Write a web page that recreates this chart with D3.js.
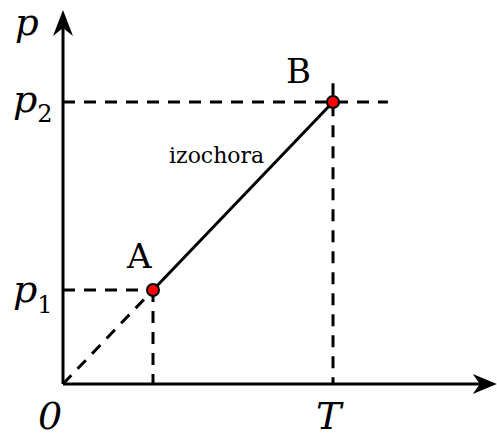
<!DOCTYPE html>
<html>
<head>
<meta charset="utf-8">
<script src="https://cdn.jsdelivr.net/npm/d3@7/dist/d3.min.js"></script>
<style>
  html, body { margin: 0; padding: 0; background: #fff; }
</style>
</head>
<body>
<div id="chart"></div>
<script>
// states of the gas (T, p) in arbitrary units
var stateNames = ["A", "B"];
var temps = [1, 3];
var pressures = [1, 3];
var lineLabel = "izochora";

var width = 497,
    height = 438,
    x = d3.scaleLinear().domain([0, 3]).range([63, 333]),
    y = d3.scaleLinear().domain([0, 3]).range([384, 102]),
    xMax = 4.82,
    yMax = 3.98,
    dash = "12,9",
    lw = 3,
    serif = "'DejaVu Serif', serif";

var svg = d3.select("#chart")
    .append("svg")
    .attr("width", width)
    .attr("height", height);

var pts = temps.map(function (t, i) {
    return { name: stateNames[i], t: t, p: pressures[i] };
});
var A = pts[0], B = pts[1];

function seg(x1, y1, x2, y2, dashed) {
    svg.append("line")
        .attr("x1", x1).attr("y1", y1)
        .attr("x2", x2).attr("y2", y2)
        .style("stroke", "#000")
        .style("stroke-width", lw)
        .style("stroke-dasharray", dashed ? dash : null);
}

// dashed guides
seg(x(0), y(B.p), x(3.61), y(B.p), true);
seg(x(B.t), y(3.2), x(B.t), y(0), true);
seg(x(0), y(A.p), x(A.t), y(A.p), true);
seg(x(A.t), y(A.p), x(A.t), y(0), true);
seg(x(0), y(0), x(A.t), y(A.p), true);

// axes
seg(x(0), y(0), x(0), y(yMax) + 14, false);
seg(x(0), y(0), x(xMax) - 14, y(0), false);

// arrow heads
var ax = x(0), ay = y(yMax);
svg.append("path")
    .attr("d", "M" + ax + "," + ay + " L" + (ax + 10) + "," + (ay + 26) +
        " L" + ax + "," + (ay + 18) + " L" + (ax - 10) + "," + (ay + 26) + "Z")
    .style("fill", "#000");
var bx = x(xMax), by = y(0);
svg.append("path")
    .attr("d", "M" + bx + "," + by + " L" + (bx - 24) + "," + (by - 10) +
        " L" + (bx - 17) + "," + by + " L" + (bx - 24) + "," + (by + 10) + "Z")
    .style("fill", "#000");

// isochore
seg(x(A.t), y(A.p), x(B.t), y(B.p), false);

svg.selectAll("circle.state")
    .data(pts)
    .enter()
    .append("circle")
    .classed("state", true)
    .attr("cx", function (d) { return x(d.t); })
    .attr("cy", function (d) { return y(d.p); })
    .attr("r", 6)
    .style("fill", "#f00")
    .style("stroke", "#000")
    .style("stroke-width", 2);

// labels
function label(txt, px, py, size, italic) {
    return svg.append("text")
        .attr("x", px).attr("y", py)
        .attr("font-family", serif)
        .style("font-family", serif)
        .style("font-size", size + "px")
        .style("font-style", italic ? "italic" : "normal")
        .style("fill", "#000")
        .text(txt);
}

label("p", 15, 35, 37, true);
label("0", 38, 429, 38, true);
label("T", 316, 429, 38, true);

var p2 = label("p", 13, 112, 38, true);
p2.append("tspan").attr("dy", 10).style("font-size", "24px").style("font-style", "normal").text("2");
var p1 = label("p", 13, 302, 38, true);
p1.append("tspan").attr("dy", 11).style("font-size", "24px").style("font-style", "normal").text("1");

label(A.name, 127, 268, 34, false);
label(B.name, 286, 83, 34, false);
label(lineLabel, 169, 163, 22, false);
</script>
</body>
</html>
